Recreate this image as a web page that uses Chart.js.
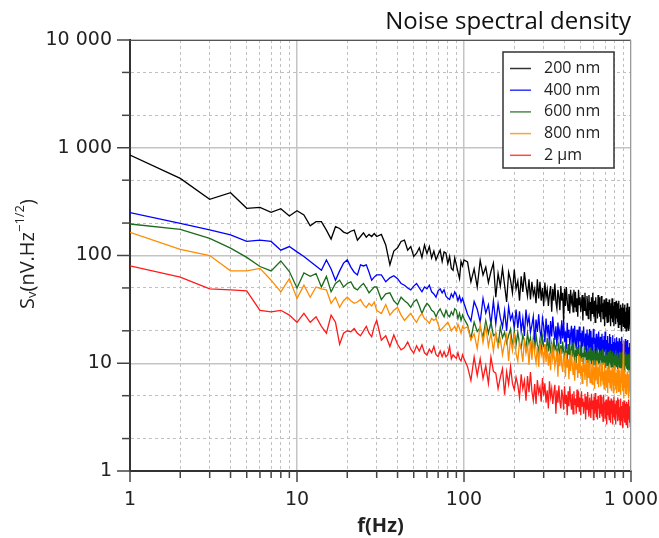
<!DOCTYPE html>
<html><head><meta charset="utf-8">
<script src="https://cdn.jsdelivr.net/npm/chart.js@4.4.0/dist/chart.umd.min.js"></script>
<style>html,body{margin:0;padding:0;background:#fff;}#wrap{width:659px;height:538px;}</style>
</head><body><div id="wrap"><canvas id="c" width="659" height="538"></canvas></div>
<script>
const freqs = [1,2,3,4,5,6,7,8,9,10,11,12,13,14,15,16,17,18,19,20,21,22,23,24,25,26,27,28,29,30,
32,34,36,38,40,42,44,46,48,50,52,54,56,58,60,62,64,66,68,70,72,74,76,78,80,82,84,86,88,90,92,94,96,98,100,
105,110,115,120,125,130,135,140,145,150,155,160,165,170,175,180,185,190,195,200,
205,210,215,220,225,230,235,240,245,250,255,260,265,270,275,280,285,290,295,300,
305,310,315,320,325,330,335,340,345,350,355,360,365,370,375,380,385,390,395,400,
405,410,415,420,425,430,435,440,445,450,455,460,465,470,475,480,485,490,495,500,
505,510,515,520,525,530,535,540,545,550,555,560,565,570,575,580,585,590,595,600,
605,610,615,620,625,630,635,640,645,650,655,660,665,670,675,680,685,690,695,700,
705,710,715,720,725,730,735,740,745,750,755,760,765,770,775,780,785,790,795,800,
805,810,815,820,825,830,835,840,845,850,855,860,865,870,875,880,885,890,895,900,
905,910,915,920,925,930,935,940,945,950,955,960,965,970,975,980,985,990,995,1000];

const s200nm = [857,520,332,383,274,280,252,272,233,260,238,189,206,206,172,142,185,178,165,160,168,172,139,150,162,148,157,150,160,150,
157,125,82,110,118,135,139,112,121,98,105,118,96,125,104,121,95,110,91,102,112,88,108,105,84,98,76,73,95,82,70,61,88,80,91,
87,57,75,51,90,66,78,56,71,85, 41,68,52,76,53,37,70,59,45,74,
49,58,38,64,46,70,52,42,60,39, 57,43,49,36,60,40,57,38,50,34,
56,41,48,34,44,52,30,49,38,55, 37,32,48,41,31,52,38,45,24,49,
34,51,38,31,44,29,48,37,41,30, 48,33,46,30,40,27,48,35,41,30,
36,43,25,41,31,45,32,28,42,36, 26,43,31,37,24.5,41,29,45,33,27,
38,24,41,31,35,26,43,29,41,27, 35,24,42,30,36,26,33,39,22,37,
27,40,28,24,37,31,24,39,28,34, 22,36,26,40,29,24,34,22,37,28,
31,23,38,26,36,24,31,21.5,38,28, 32,23,29,35,20,33,25,36,25.5,22,
33,28,21,35,25,30,20,33,24,36, 26.5,21.5,31,20,33.5,25,28.5,21,35,24];

const s400nm = [250,199,173,155,135,139,135,112,121,108,98,88,80,73,91,75,59,72,85,91,78,70,66,82,80,82,70,59,63,66,
66,57,62,65,61,55,53,50,48,52,55,50,46,51,49,53,46,44,41,47,49,45,48,42,40,39,44,41,46,43,38,42,37,40,36,
28.5,24.7,37.4,31.7,24.1,39.9,29.2,34.9,22.8,38, 23.2,35.6,26.5,21.6,30.8,20,33.5,25.4,28.6,21.1,
31.5,21.3,30.3,19.8,26.1,17.9,31.5,23,27.1,19.4, 22.6,27.1,15.5,25.5,19.5,28.4,20,17.3,26.2,22.2,
15.7,26,19,22.7,14.8,24.7,17.7,27.2,20.2,16.5, 22,14.3,23.9,18.1,20.5,15.1,25.1,17,24.1,15.8,
19.8,13.5,23.8,17.4,20.5,14.6,18.7,22.3,12.8,21, 15.3,22.3,15.7,13.6,20.5,17.4,13.2,21.9,16,19.1,
12,19.9,14.3,21.9,16.3,13.3,18.9,12.3,20.6,15.6, 17,12.5,20.8,14.1,20,13.1,17.3,11.8,20.8,15.2,
17.2,12.3,15.7,18.8,10.8,17.7,13.6,19.7,13.9,12, 17.6,14.9,11.3,18.8,13.7,16.4,10.7,17.9,12.8,19.7,
14.1,11.5,16.4,10.7,17.9,13.5,15.3,11.2,18.7,12.7, 17.5,11.5,15.1,10.4,18.2,13.3,15.7,11.2,14.3,17.1,
9.5,15.6,12,17.4,12.2,10.6,16,13.6,10.3,17.1, 12.2,14.6,9.6,16,11.4,17.6,13,10.6,15.2,9.8,
16,12.1,13.7,10.1,16.8,11.4,16.1,10.6,13.9,9.5, 16.4,12,14.1,10.1,12.9,15.4,8.8,14.5,11.1,16.1];

const s600nm = [196,175,144,117,96,79,72,89,71,50,69,64,68,51,64,46,55,59,51,55,57,50,48,52,55,50,45,48,51,51,
39,44,45,38,35,41,38,36,33,37,39,34,29,33,36,34,31,30,27,30,32,29,27,31,28,27,30,28,32,31,26,29,25,28,26,
22.6,16.9,24.1,19.7,21.5,17.4,24.9,18.9,24.2,18, 18.9,14.6,21.7,17.3,19.4,15.4,18.2,20.7,14.1,19.8,
14.8,19.4,15.1,13.7,18.2,16.2,13.5,19.1,15.3,17.3, 12.1,17.1,13.5,18.4,14.8,12.9,16.5,12.3,17.5,14.4,
14.7,11.9,17.1,12.9,16.6,12.3,14.9,11.5,17.1,13.6, 14.4,11.4,13.5,15.3,10.5,14.7,12.2,15.9,12.4,11.3,
14.4,12.8,10.6,15.1,12,13.6,10.3,14.5,11.5,15.6, 12,10.5,13.4,10,14.2,11.7,12.7,10.3,14.8,11.2,
13.9,10.4,12.5,9.7,14.3,11.4,12.8,10.2,12,13.7, 9.2,12.8,10.6,13.9,10.8,9.8,13.1,11.6,9.7,13.7,
10.8,12.3,9.2,13.1,10.3,14,11.3,9.8,12.6,9.4, 13.1,10.7,11.7,9.5,13.6,10.3,13.2,9.8,11.8,9.2,
13.4,10.7,12,9.5,11.2,12.8,8.7,12.2,10.1,13.2, 10.1,9.2,12.3,10.9,9.1,12.9,10.3,11.7,8.8,12.4,
9.7,13.1,10.6,9.2,11.7,8.8,12.5,10.3,11.1,9.1, 12.8,9.7,12.5,9.3,11.2,8.7,12.8,10.2,11.5,9.1,
10.6,12.1,8.3,11.6,9.6,12.6,9.8,8.9,11.8,10.5, 8.6,12.2,9.8,11.1,8.3,11.8,9.3,12.7,10.2,8.9];

const s800nm = [164,114,100,72,72,76,59,46,61,40,53,41,51,49,48,36,41,33,38,41,38,36,37,39,35,33,36,34,37,31,
29,35,28,31,33,28,25,27,29,26,24,27,29,26,25,23.5,26,25,26,23,20,21,22,23,24,22,20,21,22,20,23,21,19,22,21,
21.8,16.5,18.7,13.7,22.9,15.5,22,14.4,19,13, 19.5,14.3,16.8,12,15.3,18.3,10.5,17.3,13.2,19.2,
12.2,10.5,15.9,13.5,10.3,17,12.4,14.9,9.7,16.2, 10.8,16.6,12.3,10.1,14.4,9.3,15.6,11.8,13.4,9.8,
15.1,10.2,14.5,9.5,12.5,8.6,15.1,11,13,9.3, 10.9,13.1,7.5,12.3,9.4,13.7,9.6,8.3,12.6,10.7,
7.5,12.5,9.1,10.9,7.1,11.9,8.5,13.1,9.7,7.9, 10.6,6.9,11.5,8.7,9.9,7.3,12.1,8.2,11.6,7.6,
9.5,6.5,11.4,8.3,9.8,7,8.9,10.7,6.1,10.1, 7.4,10.8,7.6,6.6,9.9,8.4,6.4,10.6,7.7,9.2,
5.8,9.7,6.9,10.6,7.9,6.4,9.2,6,10,7.6, 8.3,6.1,10.1,6.9,9.8,6.4,8.4,5.8,10.1,7.4,
8.5,6,7.7,9.2,5.3,8.7,6.6,9.7,6.8,5.9, 8.6,7.3,5.5,9.2,6.7,8,5.3,8.8,6.3,9.6,
7,5.7,8.1,5.3,8.8,6.7,7.5,5.5,9.2,6.2, 8.6,5.7,7.5,5.1,9,6.6,7.7,5.5,7,16,
4.7,7.7,5.9,8.6,6,5.2,7.9,6.7,5.1,8.4, 6,7.2,4.7,7.9,5.6,8.6,6.4,5.2,7.5,4.8];

const s2um = [80,63,49,48,47,31,30,31,28,24,29,24,27,22,19,28,24,15,19,20,19.6,21,19,18,20,22,19,17.6,22,25,
16.4,18,14.3,18.3,15,13.3,14,15.8,13.5,12.4,14.5,13,14.8,12.5,11.9,13.5,12.5,14.3,12,11.5,13,11.5,12.8,11.5,12,14.3,11,12,11.5,11.1,12.5,11,10.5,12,11,
9.3,6.9,11.4,7.7,11,7.2,9.5,6.5,11.4,8.4, 8.1,5.8,7.4,8.9,5.1,8.3,6.4,9.3,6.5,5.7,
7.4,6.3,4.8,7.9,5.8,6.9,4.5,7.6,5.4,8.3, 5.5,4.5,6.4,4.2,7,5.3,6,4.4,7.3,5,
6.5,4.3,5.6,3.8,6.8,4.9,5.8,4.2,5.3,6.3, 3.4,5.6,4.3,6.2,4.4,3.8,5.7,4.9,3.7,6.1,
4.2,5.1,3.3,5.5,4,6.1,4.5,3.7,5.2,3.4, 5.5,4.1,4.7,3.4,5.7,3.9,5.5,3.6,4.8,3.3,
5.5,4,4.7,3.4,4.3,5.2,3,4.9,3.7,5.4, 3.7,3.2,4.8,4.1,3.1,5.2,3.8,4.5,3,4.9,
3.4,5.3,3.9,3.2,4.6,3,5,3.8,4.2,3.1, 5.1,3.4,4.9,3.2,4.2,2.9,5.1,3.7,4.4,3.1,
3.9,4.6,2.7,4.4,3.3,4.9,3.4,3,4.5,3.8, 2.8,4.7,3.4,4.1,2.7,4.5,3.2,4.9,3.7,3,
4.2,2.7,4.5,3.4,3.9,2.9,4.8,3.2,4.6,3, 3.9,2.7,4.7,3.4,4,2.9,3.7,4.4,2.5,4.1,
3.1,4.5,3.2,2.8,4.2,3.5,2.7,4.4,3.2,3.9, 2.5,4.2,3,4.6,3.4,2.8,4,2.6,4.3,3.3];

const seriesNames = ['200 nm','400 nm','600 nm','800 nm','2 µm'];
const seriesValues = [s200nm, s400nm, s600nm, s800nm, s2um];
const seriesColors = ['#000000','#0000ff','#1c6b1c','#ff8c00','#ff1a1a'];

const xTickValues = [1,2,3,4,5,6,7,8,9,10,20,30,40,50,60,70,80,90,100,200,300,400,500,600,700,800,900,1000];
const yTickValues = [1,2,5,10,20,50,100,200,500,1000,2000,5000,10000];
const xTickLabels = {1:'1',10:'10',100:'100',1000:'1 000'};
const yTickLabels = {1:'1',10:'10',100:'100',1000:'1 000',10000:'10 000'};

const chartTitle = 'Noise spectral density';
const xTitle = 'f(Hz)';

const isDecade = v => Math.abs(Math.log10(v) - Math.round(Math.log10(v))) < 1e-9;

const datasets = seriesValues.map((vals, i) => ({
  label: seriesNames[i],
  data: freqs.map((f, j) => ({x: f, y: vals[j]})),
  borderColor: seriesColors[i],
  backgroundColor: seriesColors[i],
  borderWidth: 1.3,
  pointRadius: 0,
  tension: 0,
  order: seriesValues.length - i
}));

const gridColor = ctx => ctx.tick && isDecade(ctx.tick.value) ? '#c4c4c4' : '#c0c0c0';
const gridWidth = ctx => ctx.tick && isDecade(ctx.tick.value) ? 1.5 : 1;
const gridDash = ctx => ctx.tick && !isDecade(ctx.tick.value) ? [3,3] : [];

const deco = {
  id: 'deco',
  beforeDraw(chart) {
    const c = chart.ctx;
    c.save(); c.fillStyle = '#fff'; c.fillRect(0, 0, chart.width, chart.height); c.restore();
  },
  afterDraw(chart) {
    const c = chart.ctx, a = chart.chartArea, xs = chart.scales.x, ys = chart.scales.y;
    c.save();
    c.lineWidth = 1;
    c.strokeStyle = '#555';
    c.beginPath(); c.moveTo(a.left, a.top + 0.5); c.lineTo(a.right, a.top + 0.5); c.stroke();
    c.strokeStyle = '#999';
    c.beginPath(); c.moveTo(a.right - 0.5, a.top); c.lineTo(a.right - 0.5, a.bottom); c.stroke();
    c.strokeStyle = '#444'; c.lineWidth = 1.5;
    yTickValues.forEach(v => {
      const y = ys.getPixelForValue(v), L = isDecade(v) ? 13 : 8;
      c.beginPath(); c.moveTo(a.left - L, y); c.lineTo(a.left, y); c.stroke();
    });
    xTickValues.forEach(v => {
      const x = xs.getPixelForValue(v), L = isDecade(v) ? 11 : 7;
      c.beginPath(); c.moveTo(x, a.bottom); c.lineTo(x, a.bottom + L); c.stroke();
    });
    c.fillStyle = '#111';
    c.font = '24px "Open Sans"';
    c.textAlign = 'right'; c.textBaseline = 'alphabetic';
    c.fillText(chartTitle, a.right, 29);
    c.font = 'bold 20px "Open Sans"';
    c.textAlign = 'center'; c.textBaseline = 'middle';
    c.fillStyle = '#222';
    c.fillText(xTitle, (a.left + a.right) / 2, 526);
    const parts = [
      {t: 'S', f: '20px "Open Sans"', dy: 0},
      {t: 'v', f: '13px "Open Sans"', dy: 4},
      {t: '(nV.Hz', f: '20px "Open Sans"', dy: 0},
      {t: '\u22121/2', f: '13px "Open Sans"', dy: -8},
      {t: ')', f: '20px "Open Sans"', dy: 0}
    ];
    let total = 0;
    parts.forEach(p => { c.font = p.f; p.w = c.measureText(p.t).width; total += p.w; });
    c.translate(28, 254);
    c.rotate(-Math.PI / 2);
    c.textAlign = 'left'; c.textBaseline = 'middle';
    let px = -total / 2;
    parts.forEach(p => { c.font = p.f; c.fillText(p.t, px, p.dy); px += p.w; });
    c.setTransform(1, 0, 0, 1, 0, 0);
    const bx = a.right - 128, by = a.top + 12, bw = 111, bh = 116;
    c.fillStyle = '#fff'; c.fillRect(bx, by, bw, bh);
    c.strokeStyle = '#333'; c.lineWidth = 1.5; c.strokeRect(bx, by, bw, bh);
    c.font = '16px "Open Sans"'; c.textAlign = 'left'; c.textBaseline = 'middle';
    seriesNames.forEach((n, i) => {
      const y = by + 16.5 + i * 21.7;
      c.strokeStyle = seriesColors[i]; c.globalAlpha = 0.8; c.lineWidth = 1.5;
      c.beginPath(); c.moveTo(bx + 7, y); c.lineTo(bx + 28, y); c.stroke();
      c.globalAlpha = 1;
      c.fillStyle = '#222'; c.fillText(n, bx + 41, y);
    });
    c.restore();
  }
};

new Chart(document.getElementById('c'), {
  type: 'line',
  data: { datasets },
  options: {
    responsive: false,
    animation: false,
    layout: { padding: { top: 40, right: 28, bottom: 0, left: 0 } },
    plugins: { legend: { display: false }, title: { display: false }, tooltip: { enabled: false } },
    scales: {
      x: {
        type: 'logarithmic', min: 1, max: 1000,
        afterBuildTicks: s => { s.ticks = xTickValues.map(v => ({value: v})); },
        afterFit: s => { s.height = 67; s.paddingLeft = 0; s.paddingRight = 0; },
        ticks: { autoSkip: false, maxRotation: 0, padding: 18, color: '#222',
          font: { family: 'DejaVu Sans', size: 19 },
          callback: v => xTickLabels[v] || '' },
        grid: { color: gridColor, lineWidth: gridWidth, drawTicks: false },
        border: { color: '#333', width: 2, dash: gridDash }
      },
      y: {
        type: 'logarithmic', min: 1, max: 10000,
        afterBuildTicks: s => { s.ticks = yTickValues.map(v => ({value: v})); },
        afterFit: s => { s.width = 130; },
        ticks: { autoSkip: false, padding: 18, color: '#222',
          font: { family: 'DejaVu Sans', size: 19 },
          callback: v => yTickLabels[v] || '' },
        grid: { color: gridColor, lineWidth: gridWidth, drawTicks: false },
        border: { color: '#333', width: 2, dash: gridDash }
      }
    }
  },
  plugins: [deco]
});
</script>
</body></html>
